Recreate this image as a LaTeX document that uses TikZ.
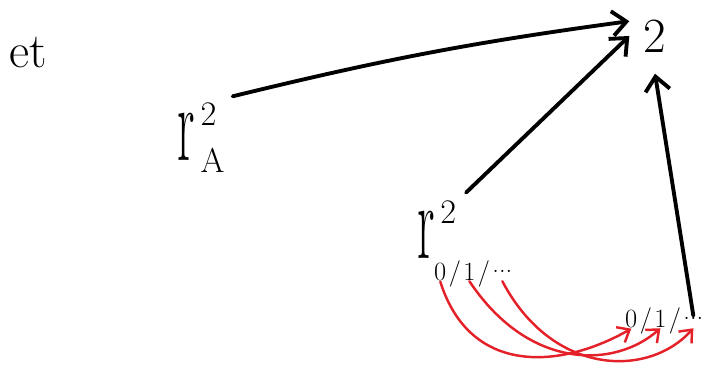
\RequirePackage{fix-cm}
\documentclass[tikz,border=0pt]{standalone}
\usepackage{fontspec}
\usepackage{amsmath}
\usepackage{graphicx}
\usetikzlibrary{positioning,arrows.meta}
\definecolor{pen}{RGB}{228,32,40}

\begin{document}
\begin{tikzpicture}[x=0.02cm, y=-0.02cm,
    hand/.style={inner sep=1pt, font=\fontsize{28}{30}\selectfont},
    digits/.style={inner sep=0.5pt, font=\fontsize{15}{17}\selectfont},
    blackline/.style={line width=2.2pt, line cap=round,
      -{Straight Barb[length=8pt, width=14pt, line width=2.2pt]}},
    redline/.style={pen, line width=1.4pt, line cap=round,
      -{Straight Barb[length=6pt, width=10pt, line width=1.4pt]}}]
        \useasboundingbox (0,0) rectangle (702,371);

        % Labels
        \node[hand, anchor=base west] (et) at (7,68) {et};
        \node[hand, anchor=base west, inner sep=4pt] (rA) at (170,160)
          {$\scalebox{1}[2.2]{r}^{\,2}_{\,\mathrm{A}}$};
        \node[hand, inner xsep=8pt, inner ysep=12pt] (two) at (655,36) {2};
        \node[hand, anchor=base west, inner sep=5pt] (rN) at (408,258)
          {$\scalebox{1}[2.2]{r}^{\,2}$};

        % Sequence under the lower arrow
        \node[digits, anchor=base west] (l0) at (433,280) {0};
        \node[digits, base right=0pt of l0] (la) {/};
        \node[digits, base right=0pt of la] (l1) {1};
        \node[digits, base right=0pt of l1] (lb) {/};
        \node[digits, base right=0pt of lb] (ld) {\raisebox{.3em}{...}};

        % Same sequence on the right
        \node[digits, anchor=base west] (r0) at (624,327) {0};
        \node[digits, base right=0pt of r0] (ra) {/};
        \node[digits, base right=0pt of ra] (r1) {1};
        \node[digits, base right=0pt of r1] (rb) {/};
        \node[digits, base right=0pt of rb] (rd) {\raisebox{.3em}{...}};

        % Black arrows into 2
        \draw[blackline] (rA.north east) to[bend left=3] (two.150);
        \draw[blackline] (rN.north east) -- (two.west);
        \draw[blackline] (rd.north) -- (two.south);

        % Red arrows, element by element
        \draw[redline] (l0.south) .. controls +(30,95) and +(-70,40) .. (r0.south);
        \draw[redline] (l1.south) .. controls +(60,90) and +(-45,40) .. (r1.south);
        \draw[redline] (ld.south) .. controls +(50,95) and +(-45,50) .. (rd.south);
      \end{tikzpicture}
\end{document}
